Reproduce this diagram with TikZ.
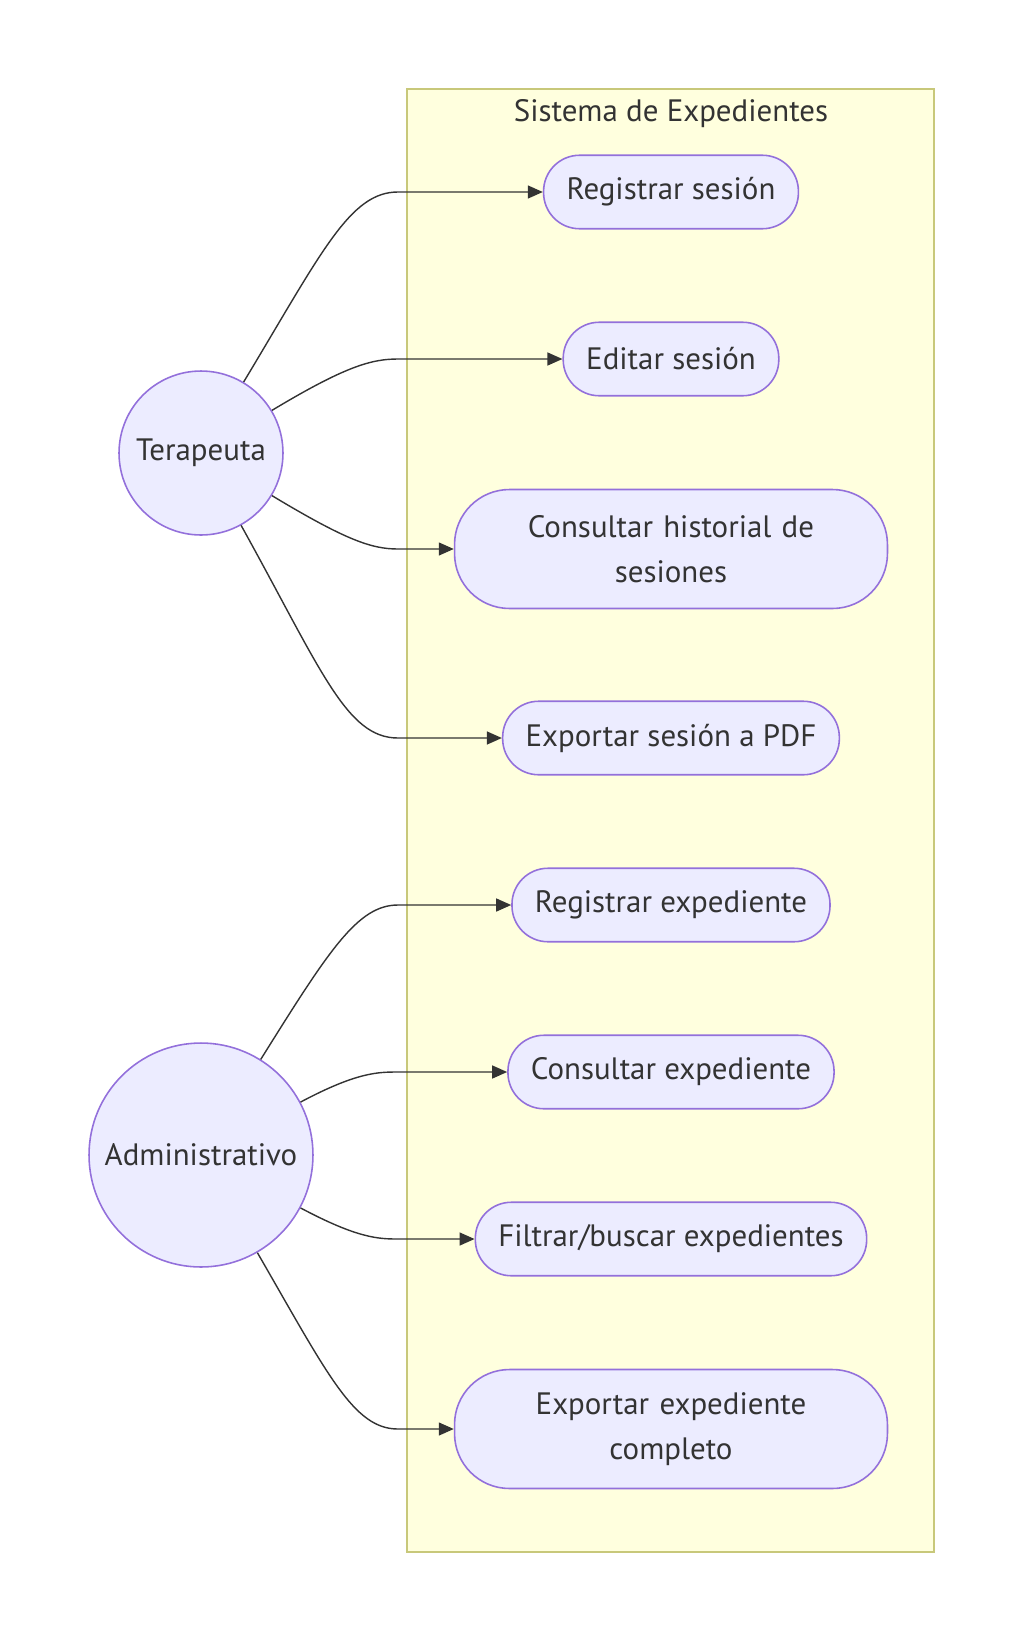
\documentclass[tikz,border=0pt]{standalone}
\usepackage{fontspec}
\setmainfont{PT Sans}
\usetikzlibrary{arrows.meta}
\definecolor{casefill}{HTML}{ECECFF}
\definecolor{casedraw}{HTML}{9370DB}
\definecolor{clusterfill}{HTML}{FFFFDE}
\definecolor{clusterdraw}{HTML}{AAAA33}
\definecolor{inkgray}{HTML}{333333}
\begin{document}
\begin{tikzpicture}
[x=0.02cm,y=0.02cm,
  every node/.style={text=inkgray,font=\fontsize{17.6}{25.6}\selectfont},
  actordecorate/.style={shape=circle,draw=casedraw,fill=casefill,line width=0.9pt,inner sep=0pt},
  casedecorate/.style={shape=rectangle,draw=casedraw,fill=casefill,line width=0.9pt,%
    rounded corners=0.72cm,minimum height=1.47cm,inner xsep=0.46cm},
  widecasedecorate/.style={casedecorate,rounded corners=1.1cm,minimum height=2.38cm,%
    text width=7.74cm,align=center},
  linedecorate/.style={-{Triangle[length=3mm,width=2.6mm]},draw=inkgray,line width=0.8pt}]
\useasboundingbox (0,0) rectangle (1024,-1643);
%% system boundary
\draw[draw=clusterdraw!65,fill=clusterfill,line width=1.2pt] (407,-89) rectangle (934,-1552);
\node (title) at (671,-114) {Sistema de Expedientes};
\coordinate (rail) at (398,0);
%% actors
\node (ter) at (201,-453) [actordecorate,minimum size=3.28cm] {Terapeuta};
\node (adm) at (201,-1155) [actordecorate,minimum size=4.48cm] {Administrativo};
%% use cases
\foreach \nodename/\y/\kind/\caption in {
  rs/-192/casedecorate/{Registrar sesión},
  es/-359/casedecorate/{Editar sesión},
  chs/-549/widecasedecorate/{Consultar historial de\\sesiones},
  esp/-738/casedecorate/{Exportar sesión a PDF},
  rex/-905/casedecorate/{Registrar expediente},
  cex/-1072/casedecorate/{Consultar expediente},
  fbe/-1239/casedecorate/{Filtrar/buscar expedientes},
  eec/-1429/widecasedecorate/{Exportar expediente\\completo}}
{
  \node (\nodename) at (671,\y) [\kind] {\caption};
}
%% associations
\foreach \src/\ang/\dst in {
  ter/59/rs, ter/31/es, ter/-31/chs, ter/-61/esp,
  adm/58/rex, adm/28/cex, adm/-28/fbe, adm/-60/eec}
{
  \draw[linedecorate] (\src.\ang)
    to[out=\ang,in=180,out looseness=1.6,in looseness=0.5] (\dst.west -| rail) -- (\dst.west);
}
\end{tikzpicture}
\end{document}
